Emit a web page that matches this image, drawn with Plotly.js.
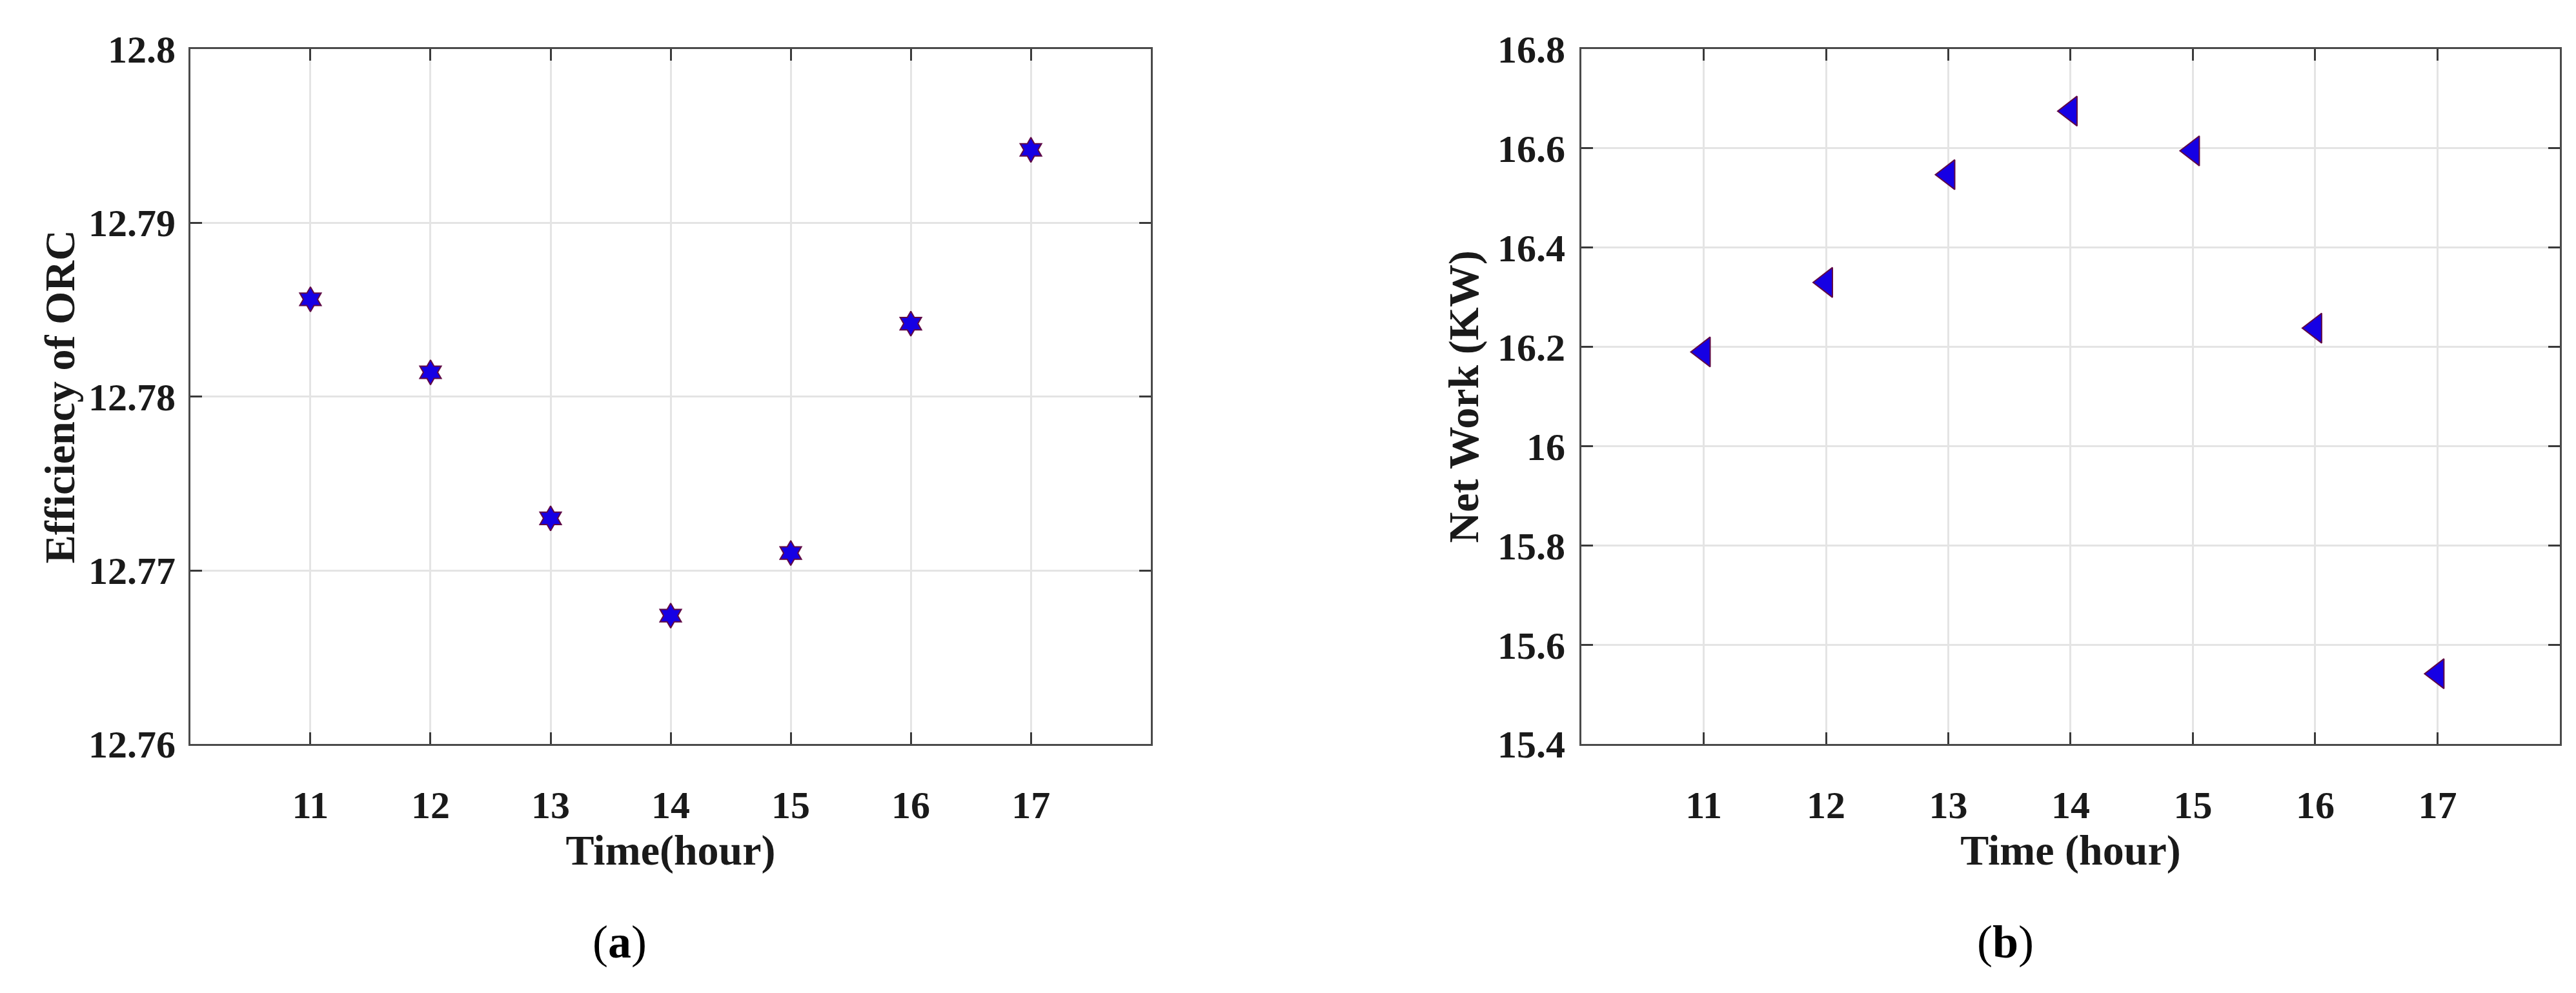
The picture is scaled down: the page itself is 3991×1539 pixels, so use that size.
<!DOCTYPE html>
<html>
<head>
<meta charset="utf-8">
<script src="https://cdn.plot.ly/plotly-3.0.1.min.js"></script>
<style>
  html, body { margin: 0; padding: 0; background: #ffffff; }
  #chart { width: 3991px; height: 1539px; }
</style>
</head>
<body>
<div id="chart"></div>
<script>
var hours = [11, 12, 13, 14, 15, 16, 17];

// (a) efficiency of ORC
var efficiency = [12.7856, 12.7814, 12.7730, 12.7674, 12.7710, 12.7842, 12.7942];
// (b) net work in KW
var netWork = [16.19, 16.33, 16.547, 16.675, 16.595, 16.238, 15.542];

var effTicks = [12.76, 12.77, 12.78, 12.79, 12.8];
var effTickText = ['12.76', '12.77', '12.78', '12.79', '12.8'];
var workTicks = [15.4, 15.6, 15.8, 16, 16.2, 16.4, 16.6, 16.8];
var workTickText = ['15.4', '15.6', '15.8', '16', '16.2', '16.4', '16.6', '16.8'];

var serif = 'Liberation Serif, Times New Roman, serif';
var fillBlue = 'rgb(22,0,228)';
var edgeRed = 'rgb(95,10,70)';

var trace1 = {
  x: hours,
  y: efficiency,
  xaxis: 'x',
  yaxis: 'y',
  mode: 'markers',
  type: 'scatter',
  hoverinfo: 'none',
  marker: {
    symbol: 'hexagram',
    size: 29,
    color: fillBlue,
    line: { color: edgeRed, width: 2 }
  }
};

var trace2 = {
  x: hours,
  y: netWork,
  xaxis: 'x2',
  yaxis: 'y2',
  mode: 'markers',
  type: 'scatter',
  hoverinfo: 'none',
  marker: {
    symbol: 'triangle-left',
    size: 40,
    color: fillBlue,
    line: { color: edgeRed, width: 2 }
  }
};

var data = [trace1, trace2];

// shared axis look (matlab-ish box with inside ticks)
function axisStyle(extra) {
  var base = {
    showline: true,
    linecolor: '#4a4a4a',
    linewidth: 3,
    mirror: 'ticks',
    ticks: 'inside',
    ticklen: 18,
    tickwidth: 3,
    tickcolor: '#3a3a3a',
    showgrid: true,
    gridcolor: '#e4e4e4',
    gridwidth: 3,
    zeroline: false,
    tickfont: { family: serif, size: 60, color: '#1a1a1a', weight: 'bold' }
  };
  for (var k in extra) base[k] = extra[k];
  return base;
}

var titleFont = { family: serif, size: 66, color: '#1a1a1a', weight: 'bold' };

var layout = {
  width: 3991,
  height: 1539,
  margin: { l: 0, r: 0, t: 0, b: 0 },
  paper_bgcolor: '#ffffff',
  plot_bgcolor: '#ffffff',
  showlegend: false,
  xaxis: axisStyle({
    domain: [0.0739, 0.4468],
    anchor: 'y',
    range: [10, 18],
    tickvals: hours,
    ticklabelstandoff: 40,
    title: { text: 'Time(hour)', font: titleFont, standoff: 14 }
  }),
  yaxis: axisStyle({
    domain: [0.2505, 0.9506],
    anchor: 'x',
    range: [12.76, 12.8],
    tickvals: effTicks,
    ticktext: effTickText,
    ticklabelstandoff: 8,
    title: { text: 'Efficiency of ORC', font: titleFont, standoff: 0 }
  }),
  xaxis2: axisStyle({
    domain: [0.6139, 0.9937],
    anchor: 'y2',
    range: [10, 18],
    tickvals: hours,
    ticklabelstandoff: 40,
    title: { text: 'Time (hour)', font: titleFont, standoff: 14 }
  }),
  yaxis2: axisStyle({
    domain: [0.2505, 0.9506],
    anchor: 'x2',
    range: [15.4, 16.8],
    tickvals: workTicks,
    ticktext: workTickText,
    ticklabelstandoff: 10,
    title: { text: 'Net Work (KW)', font: titleFont, standoff: 8 }
  }),
  annotations: [
    {
      text: '(<b>a</b>)', xref: 'paper', yref: 'paper',
      x: 960 / 3991, y: 1 - 1460 / 1539, xanchor: 'center', yanchor: 'middle',
      showarrow: false, font: { family: serif, size: 72, color: '#000000' }
    },
    {
      text: '(<b>b</b>)', xref: 'paper', yref: 'paper',
      x: 3107 / 3991, y: 1 - 1460 / 1539, xanchor: 'center', yanchor: 'middle',
      showarrow: false, font: { family: serif, size: 72, color: '#000000' }
    }
  ]
};

Plotly.newPlot('chart', data, layout, { staticPlot: true, displayModeBar: false });
</script>
</body>
</html>
